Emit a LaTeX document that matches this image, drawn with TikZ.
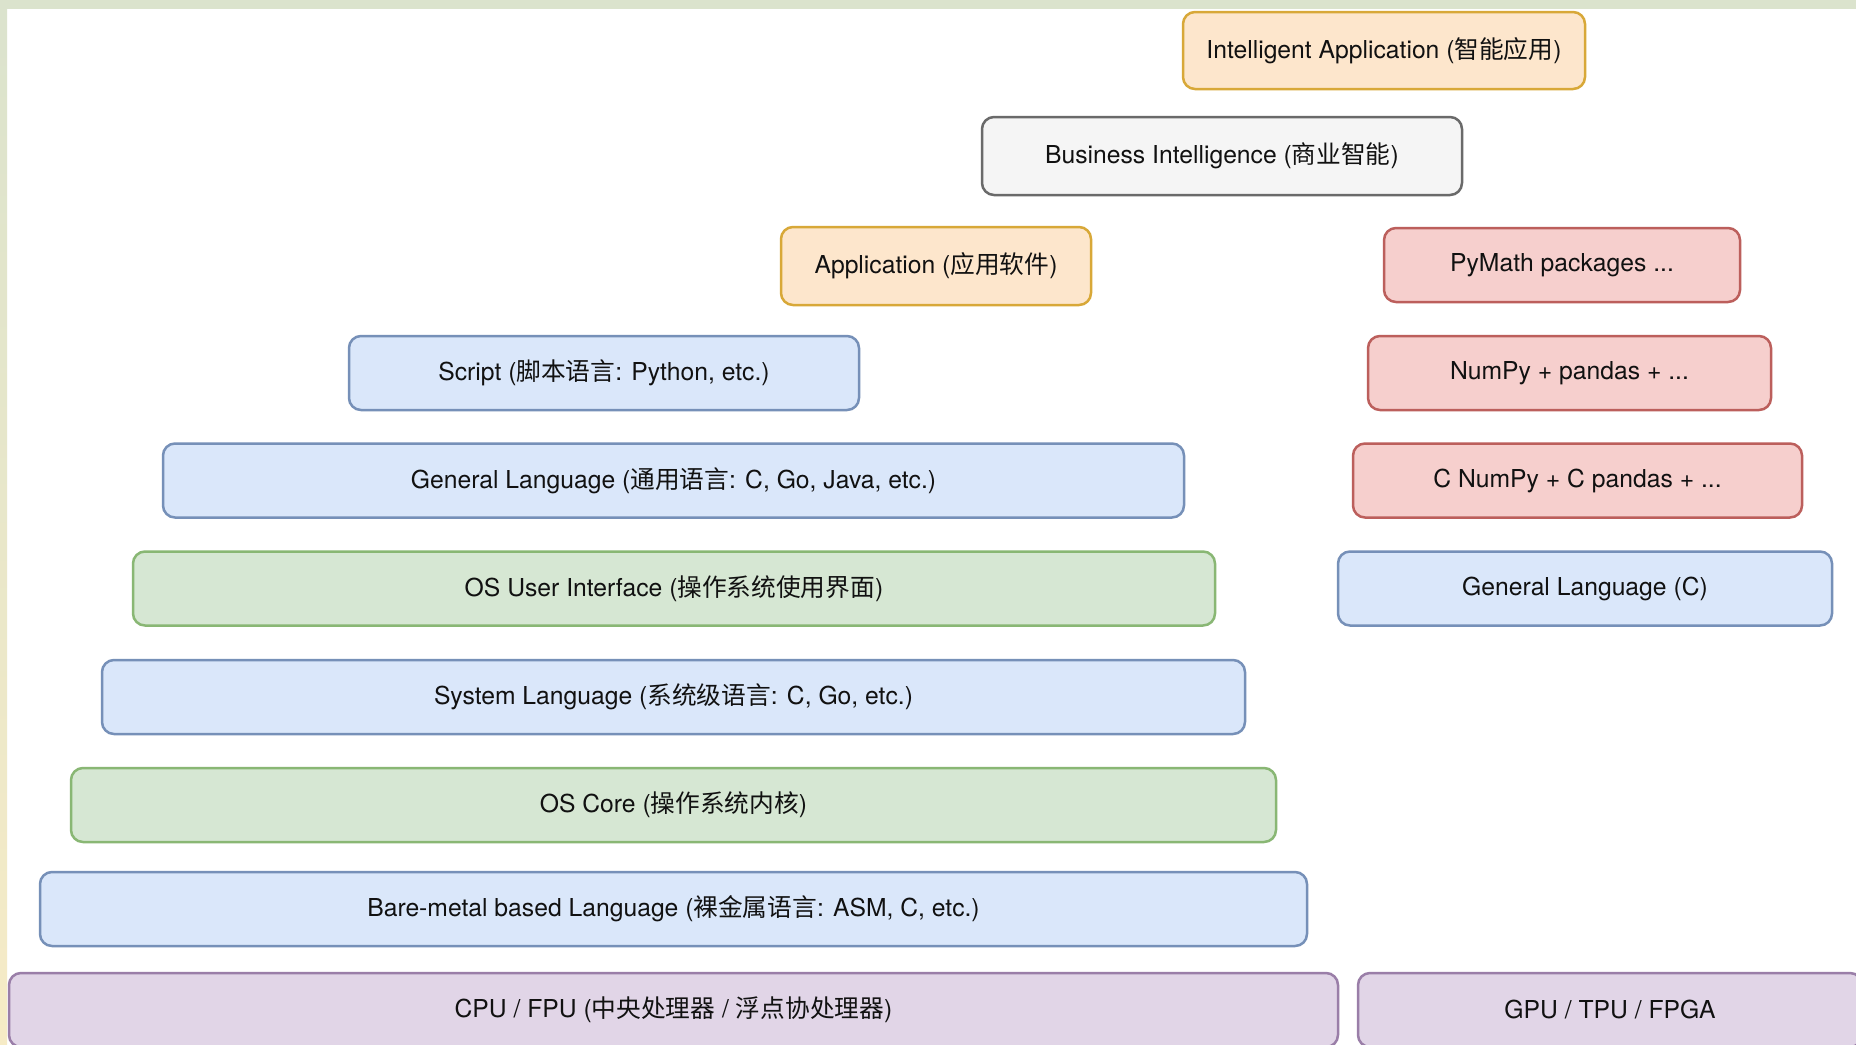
\documentclass[tikz,border=0pt]{standalone}
\usepackage{fontspec}
\setmainfont{TeX Gyre Heros}
\newfontfamily\cjk{Noto Sans CJK SC}

\definecolor{txt}{HTML}{111111}
\definecolor{orangeFill}{HTML}{FDE6CC}
\definecolor{orangeLine}{HTML}{D8A838}
\definecolor{grayFill}{HTML}{F5F5F5}
\definecolor{grayLine}{HTML}{6A6A6A}
\definecolor{redFill}{HTML}{F6CFCD}
\definecolor{redLine}{HTML}{BC5F5C}
\definecolor{blueFill}{HTML}{DAE7FA}
\definecolor{blueLine}{HTML}{7690B8}
\definecolor{greenFill}{HTML}{D6E7D3}
\definecolor{greenLine}{HTML}{89B774}
\definecolor{purpleFill}{HTML}{E1D5E7}
\definecolor{purpleLine}{HTML}{9A7EA8}
\definecolor{edgeGreen}{HTML}{DBE3CD}
\definecolor{edgeYellow}{HTML}{F6EBC6}

\begin{document}
\begin{tikzpicture}[x=0.5pt,y=-0.5pt,
  layer/.style={draw, rounded corners=6pt, line width=1.25pt, inner sep=0pt,
    minimum height=37pt, text=txt, font=\fontsize{12.35}{14}\selectfont},
  orangebox/.style={layer, fill=orangeFill, draw=orangeLine},
  graybox/.style={layer, fill=grayFill, draw=grayLine},
  redbox/.style={layer, fill=redFill, draw=redLine},
  bluebox/.style={layer, fill=blueFill, draw=blueLine},
  greenbox/.style={layer, fill=greenFill, draw=greenLine},
  purplebox/.style={layer, fill=purpleFill, draw=purpleLine}]

\useasboundingbox (0,0) rectangle (1856,1044);
\clip (0,0) rectangle (1856,1044);
\fill[white] (0,0) rectangle (1856,1044);

% frame strips along the top and left edges
\fill[edgeGreen] (0,0) rectangle (1856,9);
\shade[top color=edgeGreen, bottom color=edgeYellow] (0,0) rectangle (7,1044);

% upper layers
\node[orangebox, minimum width=201pt, minimum height=38.5pt] (intapp) at (1384,50.5)
  {Intelligent Application ({\cjk 智能应用})};
\node[graybox, minimum width=240pt, minimum height=39pt] (bi) at (1222,156)
  {Business Intelligence ({\cjk 商业智能})};
\node[orangebox, minimum width=155pt, minimum height=39pt] (app) at (936,266)
  {Application ({\cjk 应用软件})};

% general software stack
\node[bluebox, minimum width=255pt] (script) at (604,373)
  {Script ({\cjk 脚本语言}: Python, etc.)};
\node[bluebox, minimum width=510.5pt] (genlang) at (673.5,480.5)
  {General Language ({\cjk 通用语言}: C, Go, Java, etc.)};
\node[greenbox, minimum width=541pt] (osui) at (674,588.5)
  {OS User Interface ({\cjk 操作系统使用界面})};
\node[bluebox, minimum width=571.5pt] (syslang) at (673.5,697)
  {System Language ({\cjk 系统级语言}: C, Go, etc.)};
\node[greenbox, minimum width=602.5pt] (oscore) at (673.5,805)
  {OS Core ({\cjk 操作系统内核})};
\node[bluebox, minimum width=633.5pt] (bare) at (673.5,909)
  {Bare-metal based Language ({\cjk 裸金属语言}: ASM, C, etc.)};
\node[purplebox, minimum width=664.5pt] (cpu) at (673.5,1010)
  {CPU / FPU ({\cjk 中央处理器} / {\cjk 浮点协处理器})};

% numeric computing stack
\node[redbox, minimum width=178pt] (pymath) at (1562,265)
  {PyMath packages ...};
\node[redbox, minimum width=201.5pt] (numpy) at (1569.5,373)
  {NumPy + pandas + ...};
\node[redbox, minimum width=224.5pt] (cnumpy) at (1577.5,480.5)
  {C NumPy + C pandas + ...};
\node[bluebox, minimum width=247pt] (genc) at (1585,588.5)
  {General Language (C)};
\node[purplebox, minimum width=252pt] (gpu) at (1610,1010)
  {GPU / TPU / FPGA};

\end{tikzpicture}
\end{document}
